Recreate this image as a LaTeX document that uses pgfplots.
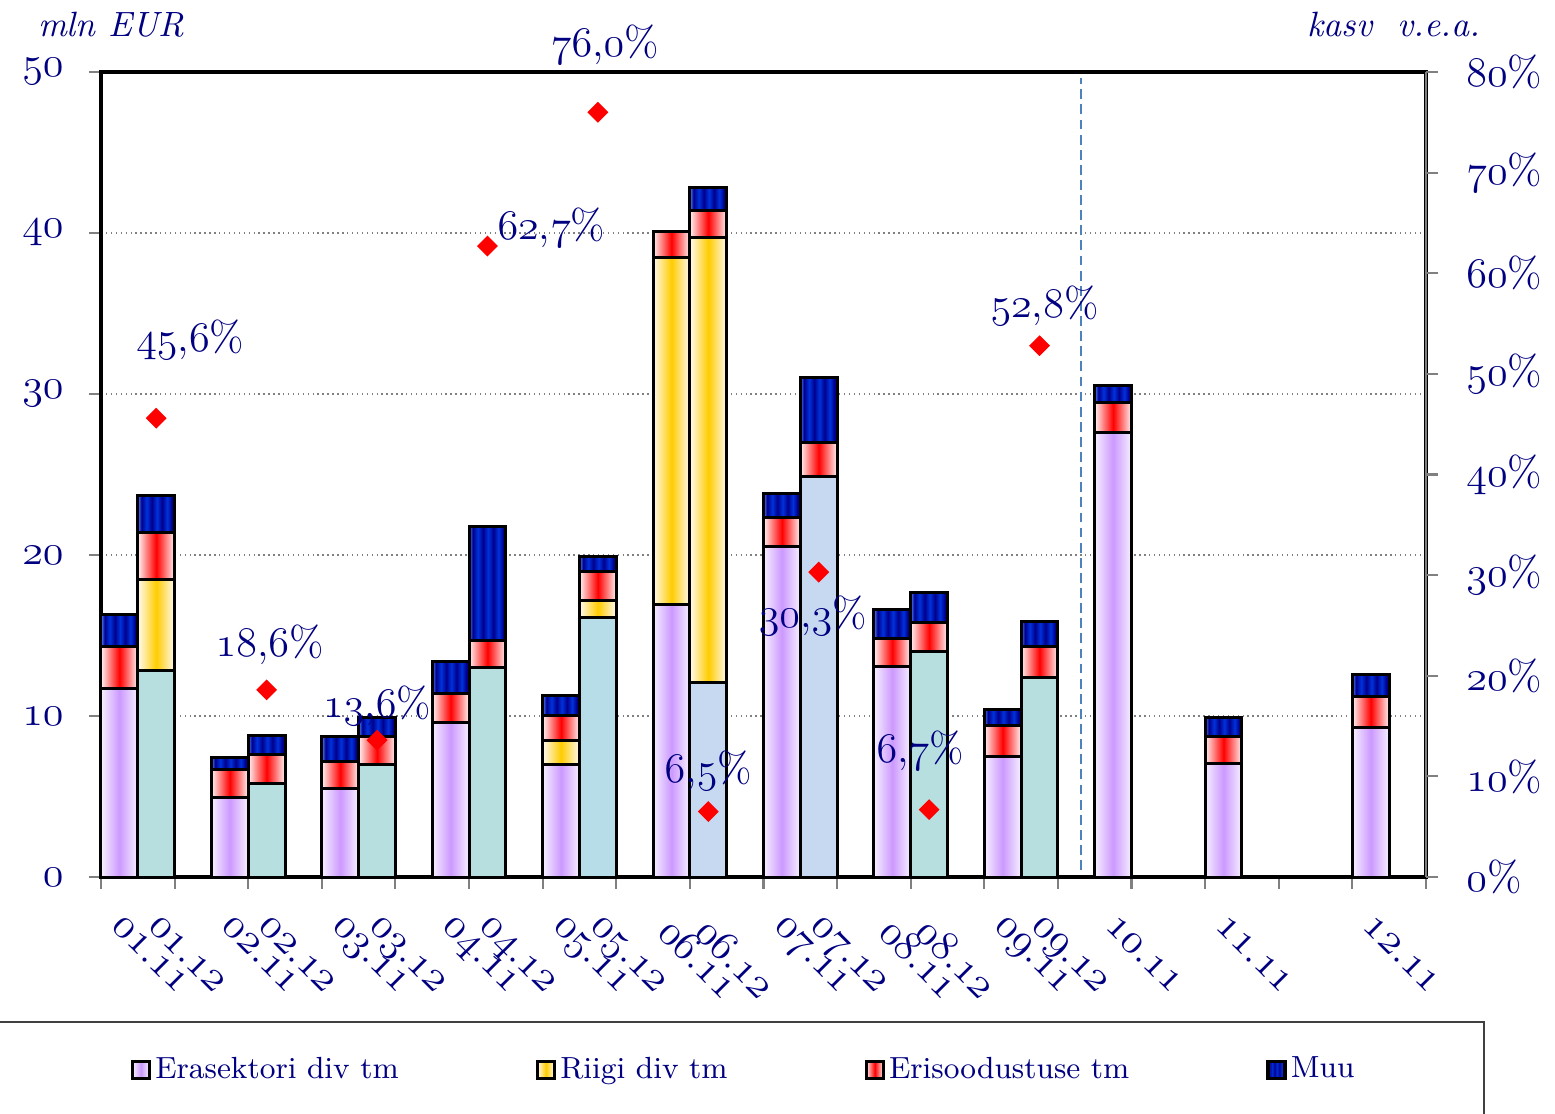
\documentclass[border=0pt]{standalone}
\usepackage{fontspec}
\usepackage{pgfplots}
\pgfplotsset{compat=1.18}
\providecommand\legacyoldstylenums[1]{\oldstylenums{#1}}
\newcommand\osn[1]{{\legacyoldstylenums{#1}}}
\newcommand\lab[2]{\osn{#1}.\osn{#2}}
\usepackage{pgfplotstable}

\definecolor{navy}{RGB}{0,0,128}
\definecolor{purpC}{RGB}{204,153,255}
\definecolor{purpE}{RGB}{246,240,255}
\definecolor{yelC}{RGB}{255,204,0}
\definecolor{yelE}{RGB}{255,250,242}
\definecolor{redC}{RGB}{255,0,0}
\definecolor{redE}{RGB}{255,242,242}
\definecolor{muuL}{RGB}{80,130,255}
\definecolor{muuD}{RGB}{0,0,140}
\definecolor{muuB}{RGB}{0,50,220}
\definecolor{tealF}{RGB}{184,223,224}
\definecolor{lbF}{RGB}{198,217,241}
\definecolor{tealG}{RGB}{182,221,232}
\definecolor{dashc}{RGB}{79,129,189}

\pgfdeclarehorizontalshading{muu}{100bp}{color(0bp)=(muuL); color(25bp)=(muuL); color(30bp)=(muuD); color(37bp)=(muuB); color(44bp)=(muuD); color(51bp)=(muuB); color(58bp)=(muuD); color(65bp)=(muuB); color(71bp)=(muuD); color(75bp)=(muuD); color(100bp)=(muuD)}

% growth (% vs previous year), label offsets in mm
\pgfplotstableread{
x    v    dx   dy   lab
1.5  45.6 3.4  7.8  \osn{45},\osn{6}\%
4.5  18.6 0.3  4.5  \osn{18},\osn{6}\%
7.5  13.6 0.0  3.4  \osn{13},\osn{6}\%
10.5 62.7 6.4  1.8  \osn{62},\osn{7}\%
13.5 76.0 0.7  6.7  \osn{76},\osn{0}\%
16.5 6.5  0.0  4.1  \osn{6},\osn{5}\%
19.5 30.3 -0.6 -4.4 \osn{30},\osn{3}\%
22.5 6.7  -0.9 5.9  \osn{6},\osn{7}\%
25.5 52.8 0.5  4.0  \osn{52},\osn{8}\%
}\pcts

\pgfplotsset{
  barsty/.style={ybar, bar width=1, bar shift=0pt, draw=black, line width=0.85pt},
  muuS/.style={barsty, shading=muu},
  eriS/.style={barsty, left color=redE, right color=redE, middle color=redC},
  riiS/.style={barsty, left color=yelE, right color=yelE, middle color=yelC},
  eraS/.style={barsty, left color=purpE, right color=purpE, middle color=purpC},
}

\begin{document}
\begin{tikzpicture}
\begin{axis}[
  at={(10.1mm,23.7mm)}, anchor=south west,
  width=132.5mm, height=80.5mm, scale only axis,
  xmin=0, xmax=36, ymin=0, ymax=50,
  bar width=1,
  clip=false,
  axis line style={black, line width=0.9pt},
  xtick={0,2,...,36}, xticklabels={},
  extra x ticks={0.5,1.5,3.5,4.5,6.5,7.5,9.5,10.5,12.5,13.5,15.5,16.5,18.5,19.5,21.5,22.5,24.5,25.5,27.5,30.5,34.5},
  extra x tick labels={\lab{01}{11},\lab{01}{12},\lab{02}{11},\lab{02}{12},\lab{03}{11},\lab{03}{12},\lab{04}{11},\lab{04}{12},\lab{05}{11},\lab{05}{12},\lab{06}{11},\lab{06}{12},\lab{07}{11},\lab{07}{12},\lab{08}{11},\lab{08}{12},\lab{09}{11},\lab{09}{12},\lab{10}{11},\lab{11}{11},\lab{12}{11}},
  extra x tick style={major tick length=0pt, grid=none},
  xtick pos=left, ytick pos=left, tick align=outside,
  major tick length=1.2mm,
  tick style={draw=gray, line width=0.6pt},
  ytick={0,10,...,50},
  /pgf/number format/assume math mode=true,
  yticklabel={\osn{\pgfmathprintnumber{\tick}}},
  yticklabel style={font=\fontsize{12}{14}\selectfont, text=navy, xshift=-1.3mm},
  xticklabel style={font=\fontsize{12}{14}\selectfont, text=navy, yshift=-3.7mm, xshift=0.4mm, rotate=-45, anchor=north west, inner sep=0pt},
  ymajorgrids, grid style={draw=gray, densely dotted, line width=0.5pt},
  legend columns=4,
  legend style={at={(0.0219,-0.2398)}, anchor=west, draw=none, fill=none, inner sep=0pt,
    font=\fontsize{8.7}{10.5}\selectfont, text=navy,
    /tikz/every even column/.append style={column sep=13mm},
    /tikz/every odd column/.append style={column sep=-0.3mm}},
  legend image code/.code={\draw[#1, line width=1pt] (0mm,-0.85mm) rectangle (1.7mm,0.85mm);},
]
\addlegendimage{eraS}\addlegendentry{Erasektori div tm}
\addlegendimage{riiS}\addlegendentry{Riigi div tm}
\addlegendimage{eriS}\addlegendentry{Erisoodustuse tm}
\addlegendimage{muuS}\addlegendentry{Muu}

% Muu: bar totals (top of stack)
\addplot[muuS, forget plot] coordinates {(0.5,16.3)};
\addplot[muuS, forget plot] coordinates {(1.5,23.7)};
\addplot[muuS, forget plot] coordinates {(3.5,7.45)};
\addplot[muuS, forget plot] coordinates {(4.5,8.8)};
\addplot[muuS, forget plot] coordinates {(6.5,8.75)};
\addplot[muuS, forget plot] coordinates {(7.5,9.9)};
\addplot[muuS, forget plot] coordinates {(9.5,13.4)};
\addplot[muuS, forget plot] coordinates {(10.5,21.8)};
\addplot[muuS, forget plot] coordinates {(12.5,11.3)};
\addplot[muuS, forget plot] coordinates {(13.5,19.9)};
\addplot[muuS, forget plot] coordinates {(16.5,42.8)};
\addplot[muuS, forget plot] coordinates {(18.5,23.85)};
\addplot[muuS, forget plot] coordinates {(19.5,31.05)};
\addplot[muuS, forget plot] coordinates {(21.5,16.6)};
\addplot[muuS, forget plot] coordinates {(22.5,17.7)};
\addplot[muuS, forget plot] coordinates {(24.5,10.4)};
\addplot[muuS, forget plot] coordinates {(25.5,15.9)};
\addplot[muuS, forget plot] coordinates {(27.5,30.5)};
\addplot[muuS, forget plot] coordinates {(30.5,9.9)};
\addplot[muuS, forget plot] coordinates {(34.5,12.55)};

% Erisoodustuse tm: cumulative top
\addplot[eriS, forget plot] coordinates {(0.5,14.3)};
\addplot[eriS, forget plot] coordinates {(1.5,21.4)};
\addplot[eriS, forget plot] coordinates {(3.5,6.65)};
\addplot[eriS, forget plot] coordinates {(4.5,7.58)};
\addplot[eriS, forget plot] coordinates {(6.5,7.15)};
\addplot[eriS, forget plot] coordinates {(7.5,8.75)};
\addplot[eriS, forget plot] coordinates {(9.5,11.4)};
\addplot[eriS, forget plot] coordinates {(10.5,14.7)};
\addplot[eriS, forget plot] coordinates {(12.5,10.06)};
\addplot[eriS, forget plot] coordinates {(13.5,19.0)};
\addplot[eriS, forget plot] coordinates {(15.5,40.1)};
\addplot[eriS, forget plot] coordinates {(16.5,41.4)};
\addplot[eriS, forget plot] coordinates {(18.5,22.3)};
\addplot[eriS, forget plot] coordinates {(19.5,27.0)};
\addplot[eriS, forget plot] coordinates {(21.5,14.8)};
\addplot[eriS, forget plot] coordinates {(22.5,15.8)};
\addplot[eriS, forget plot] coordinates {(24.5,9.4)};
\addplot[eriS, forget plot] coordinates {(25.5,14.3)};
\addplot[eriS, forget plot] coordinates {(27.5,29.5)};
\addplot[eriS, forget plot] coordinates {(30.5,8.75)};
\addplot[eriS, forget plot] coordinates {(34.5,11.2)};

% Riigi div tm: cumulative top
\addplot[riiS, forget plot] coordinates {(1.5,18.5)};
\addplot[riiS, forget plot] coordinates {(12.5,8.5)};
\addplot[riiS, forget plot] coordinates {(13.5,17.2)};
\addplot[riiS, forget plot] coordinates {(15.5,38.45)};
\addplot[riiS, forget plot] coordinates {(16.5,39.75)};

% Erasektori div tm
\addplot[eraS, forget plot] coordinates {(0.5,11.7)};
\addplot[eraS, forget plot] coordinates {(3.5,4.95)};
\addplot[eraS, forget plot] coordinates {(6.5,5.5)};
\addplot[eraS, forget plot] coordinates {(9.5,9.6)};
\addplot[eraS, forget plot] coordinates {(12.5,7.0)};
\addplot[eraS, forget plot] coordinates {(15.5,16.9)};
\addplot[eraS, forget plot] coordinates {(18.5,20.5)};
\addplot[eraS, forget plot] coordinates {(21.5,13.1)};
\addplot[eraS, forget plot] coordinates {(24.5,7.5)};
\addplot[eraS, forget plot] coordinates {(27.5,27.6)};
\addplot[eraS, forget plot] coordinates {(30.5,7.05)};
\addplot[eraS, forget plot] coordinates {(34.5,9.3)};
\addplot[barsty, fill=tealF, forget plot] coordinates {(1.5,12.8) (4.5,5.8) (7.5,7.0) (10.5,13.0) (22.5,14.0) (25.5,12.4)};
\addplot[barsty, fill=lbF, forget plot] coordinates {(16.5,12.05) (19.5,24.85)};
\addplot[barsty, fill=tealG, forget plot] coordinates {(13.5,16.1)};
\end{axis}

\begin{axis}[
  at={(10.1mm,23.7mm)}, anchor=south west,
  width=132.5mm, height=80.5mm, scale only axis,
  xmin=0, xmax=36, ymin=0, ymax=80,
  axis x line=none, axis y line*=right,
  y axis line style={-, draw=gray, line width=0.7pt},
  ytick={0,10,...,80},
  /pgf/number format/assume math mode=true,
  yticklabel={\osn{\pgfmathprintnumber{\tick}}\%},
  yticklabel style={font=\fontsize{12}{14}\selectfont, text=navy, xshift=1.6mm},
  tick align=outside, major tick length=1.2mm,
  tick style={draw=gray, line width=0.6pt},
  clip=false,
]
\addplot[dashc, line width=0.7pt, dash pattern=on 2.8pt off 1.5pt, forget plot] coordinates {(26.63,0.7) (26.63,79.4)};
\addplot[only marks, mark=square*, mark size=1.9pt, mark options={rotate=45, fill=red, draw=red},
  point meta=explicit symbolic, nodes near coords,
  visualization depends on={\thisrow{dx}\as\dx},
  visualization depends on={\thisrow{dy}\as\dy},
  every node near coord/.append style={font=\fontsize{12}{14}\selectfont, text=navy, anchor=center, xshift=\dx mm, yshift=\dy mm}]
  table[x=x, y=v, meta=lab]{\pcts};
\end{axis}

\node[font=\fontsize{10}{12}\selectfont\itshape, text=navy] at (11.1mm,108.9mm) {mln EUR};
\node[font=\fontsize{10}{12}\selectfont\itshape, text=navy] at (139.4mm,108.9mm) {kasv~~v.e.a.};
\draw[draw=black!75, line width=0.6pt] (-1mm,9.2mm) -- (148.4mm,9.2mm) -- (148.4mm,-1mm);
\pgfresetboundingbox
\path[use as bounding box] (0,0) rectangle (155.5mm,111.4mm);
\end{tikzpicture}
\end{document}
